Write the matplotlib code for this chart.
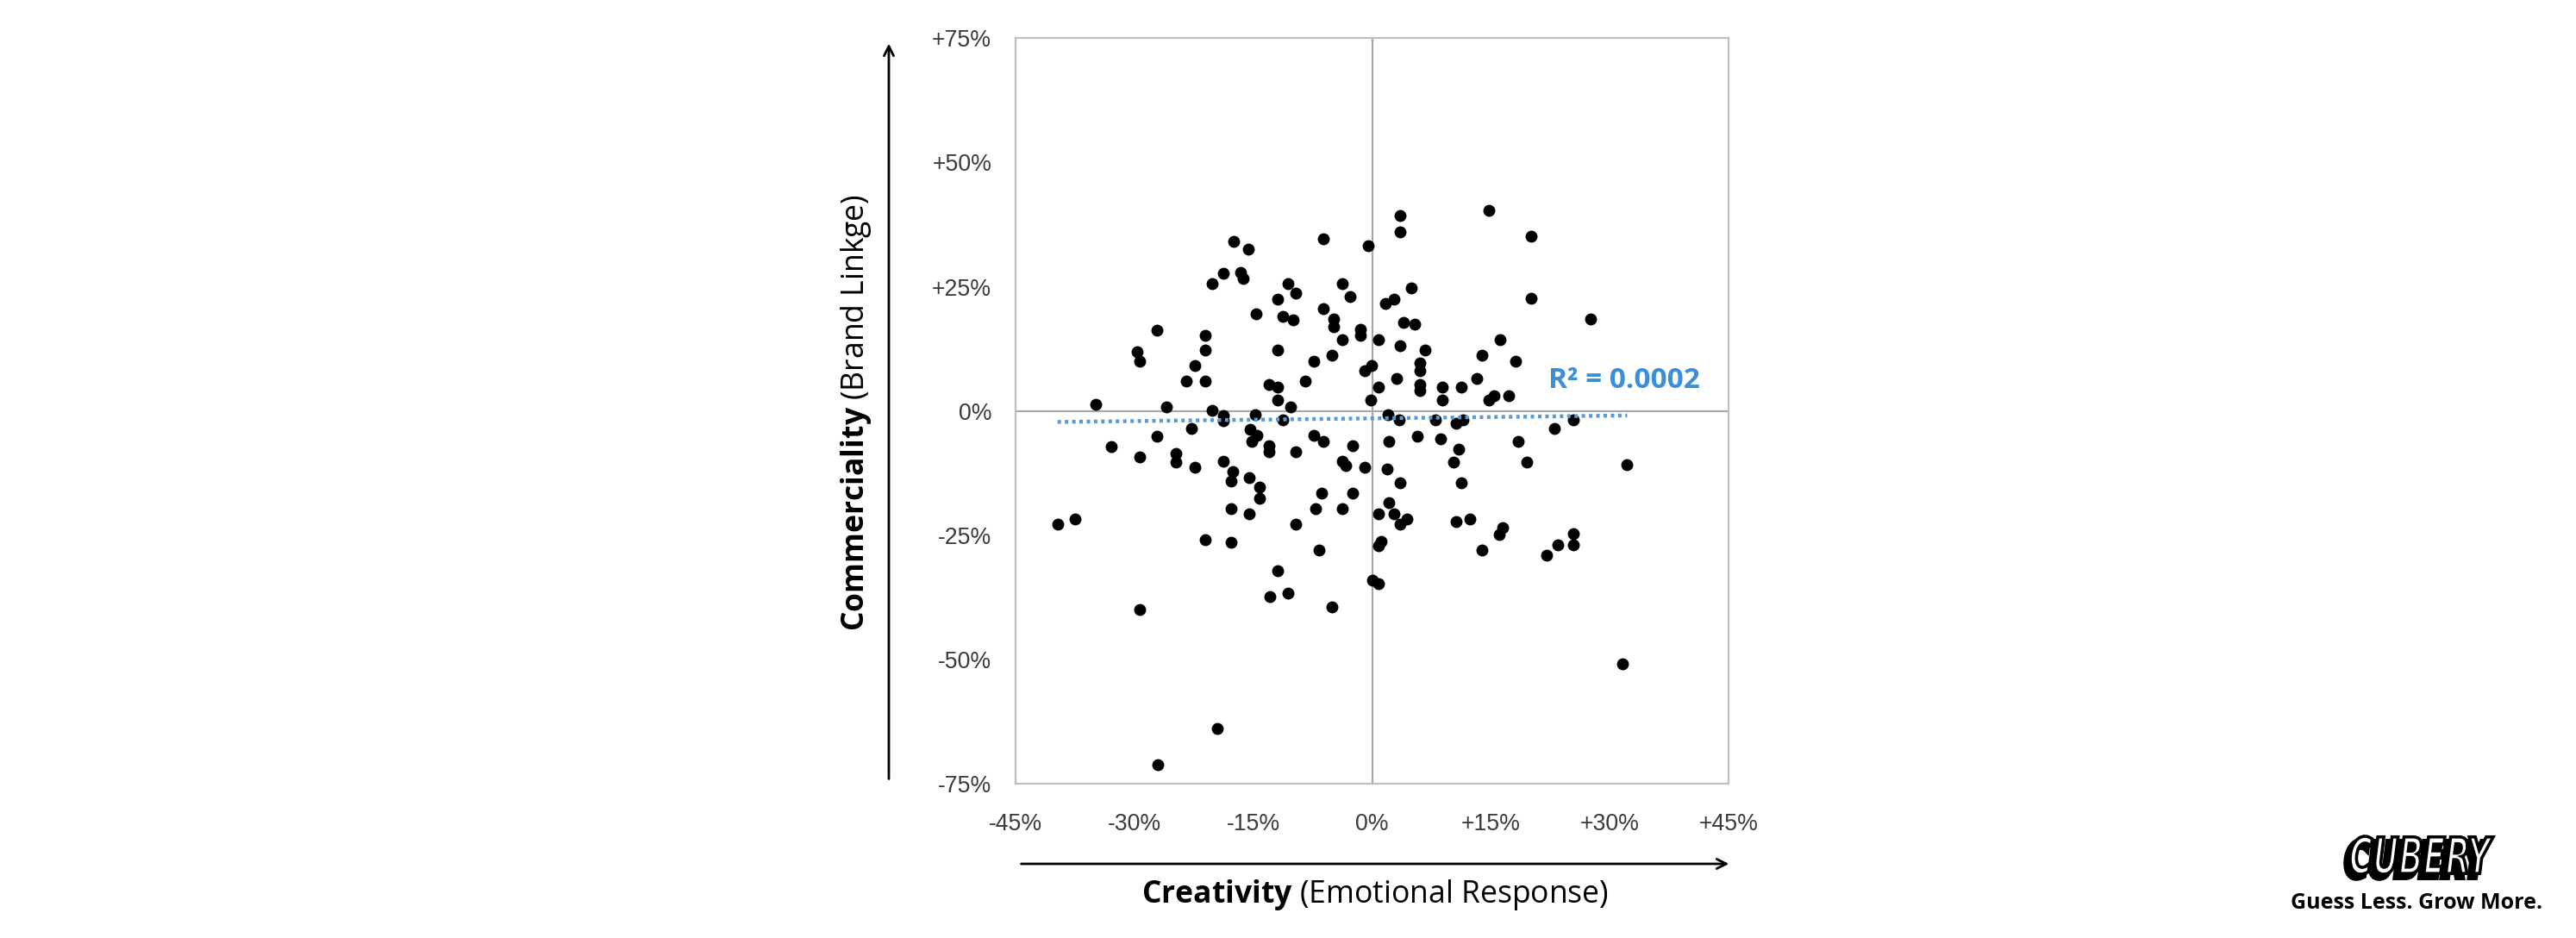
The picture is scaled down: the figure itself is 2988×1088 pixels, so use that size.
import matplotlib
matplotlib.use("Agg")
import matplotlib.pyplot as plt
import numpy as np
from matplotlib.textpath import TextPath
from matplotlib.patches import PathPatch
from matplotlib.font_manager import FontProperties
from matplotlib.transforms import Affine2D

# ---------------- data (percent) ----------------
creativity = [
    -17.5, -18.8, -20.2, -27.1, -21.1, -29.7, -29.3, -21.1, -22.4, -23.4,
    -21.1, -34.9, -26.0, -20.2, -18.8, -18.8, -22.8, -27.1, -32.9, -29.3,
    -24.8, -24.8, -22.4, -18.8, -17.6,
    -15.6, -16.6, -16.3, -6.1, -0.5, 3.5, 3.5, -10.6, -9.6, -11.9,
    -3.8, -2.8, 5.0, -14.6, -11.3, -10.0, -6.1, -4.8, -4.8, -3.8,
    -1.5, -1.5, 1.7, 2.8, 4.0, 5.4, 0.8, 3.5, 6.7, -11.9,
    -7.3, -5.1, 6.0, 6.0, -0.9, -0.1, -13.0, -11.9, -11.9, -8.4,
    -10.3, 0.8, -0.2, 3.1, 6.0, 6.0, -14.8, -11.3, 2.0, 3.4,
    -15.4, -14.5, -15.2, -13.0, -13.0, -9.6, -7.3, -6.1, -2.4, -3.8,
    -3.3, -0.9, 2.1, 5.7, 1.9,
    14.8, 20.1, 20.1, 27.6, 16.2, 13.9, 18.1, 13.2, 8.9, 8.9,
    11.3, 14.8, 15.4, 17.2, 8.0, 10.6, 11.5, 25.4, 23.0, 8.6,
    18.5, 10.9, 10.3, 19.5, 32.2,
    -39.7, -37.5, -17.8, -17.8, -21.1, -17.8, -29.3, -19.5, -27.0,
    -15.5, -14.2, -14.2, -15.5, -9.6, -6.4, -2.4, -7.1, -3.8, -6.7,
    -11.9, -12.9, -10.6, -5.1, 3.5, 2.1, 0.8, 2.8, 4.4, 3.5,
    1.1, 0.8, 0.0, 0.8,
    11.3, 10.6, 12.3, 16.5, 16.1, 13.9, 22.0, 23.4, 25.4, 25.4, 31.6,
]
commerciality = [
    34.1, 27.7, 25.7, 16.3, 15.3, 11.9, 10.0, 12.3, 9.1, 6.0,
    6.0, 1.3, 0.8, 0.2, -0.9, -1.9, -3.5, -5.0, -7.1, -9.2,
    -8.5, -10.2, -11.3, -10.1, -12.2,
    32.5, 27.9, 26.7, 34.6, 33.3, 39.3, 36.1, 25.7, 23.7, 22.5,
    25.7, 23.1, 24.7, 19.5, 19.0, 18.4, 20.6, 18.5, 16.9, 14.3,
    16.4, 15.3, 21.6, 22.5, 17.9, 17.5, 14.3, 13.2, 12.3, 12.3,
    10.1, 11.2, 9.7, 8.1, 8.1, 9.1, 5.4, 4.9, 2.3, 6.0,
    0.8, 4.9, 2.3, 6.5, 5.4, 4.1, -0.7, -1.8, -0.7, -1.8,
    -3.7, -4.9, -6.1, -6.9, -8.2, -8.1, -4.9, -6.1, -7.0, -10.1,
    -10.9, -11.3, -6.1, -5.0, -11.7,
    40.3, 35.1, 22.7, 18.5, 14.3, 11.2, 10.1, 6.6, 4.9, 2.3,
    4.9, 2.3, 3.0, 3.0, -1.8, -2.4, -1.8, -1.8, -3.5, -5.5,
    -6.1, -7.6, -10.2, -10.2, -10.7,
    -22.7, -21.7, -14.1, -19.6, -25.9, -26.4, -39.9, -63.9, -71.2,
    -13.4, -15.3, -17.5, -20.6, -22.7, -16.5, -16.5, -19.6, -19.6, -27.9,
    -32.1, -37.3, -36.7, -39.4, -14.4, -18.5, -20.6, -20.6, -21.7, -22.7,
    -26.3, -27.0, -34.1, -34.7,
    -14.4, -22.3, -21.7, -23.5, -24.9, -27.9, -29.0, -26.9, -24.7, -26.9, -50.9,
]

x_ticks = [-45, -30, -15, 0, 15, 30, 45]
x_tick_labels = ["-45%", "-30%", "-15%", "0%", "+15%", "+30%", "+45%"]
y_ticks = [-75, -50, -25, 0, 25, 50, 75]
y_tick_labels = ["-75%", "-50%", "-25%", "0%", "+25%", "+50%", "+75%"]

trend_slope = 0.018
trend_intercept = -1.47
r_squared_label = "R² = 0.0002"
r_squared_pos = (22.3, 6.2)

x_title_bold = "Creativity"
x_title_rest = " (Emotional Response)"
y_title_bold = "Commerciality"
y_title_rest = " (Brand Linkge)"
logo_word = "CUBERY"
tagline = "Guess Less. Grow More."

# ---------------- styling ----------------
LABEL_FONT = "Open Sans"
plt.rcParams["mathtext.fontset"] = "custom"
plt.rcParams["mathtext.bf"] = LABEL_FONT + ":bold"
plt.rcParams["mathtext.rm"] = LABEL_FONT

W, H = 2988, 1088
DPI = 200
fig = plt.figure(figsize=(W / DPI, H / DPI), dpi=DPI)
fig.patch.set_facecolor("white")

# main axes (pixel box: x 1178..2005, y 44..909 from top)
ax = fig.add_axes([1178 / W, 1 - 909.3 / H, (2005 - 1178) / W, (909.3 - 44.3) / H])
ax.set_xlim(-45, 45)
ax.set_ylim(-75, 75)
for s in ax.spines.values():
    s.set_color("#bfbfbf")
    s.set_linewidth(0.8)
ax.axvline(0, color="#a8a8a8", lw=0.8, zorder=1)
ax.axhline(0, color="#a8a8a8", lw=0.8, zorder=1)

ax.scatter(creativity, commerciality, s=25, color="black", zorder=3, linewidths=0)

xs = np.array([min(creativity), max(creativity)])
ax.plot(xs, trend_slope * xs + trend_intercept, color="#5b9bd5", lw=1.6,
        linestyle=(0, (0.9, 1.0)), zorder=4)
ax.text(r_squared_pos[0], r_squared_pos[1], r_squared_label, color="#3b8ed8",
        fontsize=12, fontweight="bold", family=LABEL_FONT, ha="left", va="center", zorder=5)

ax.set_xticks(x_ticks)
ax.set_xticklabels(x_tick_labels)
ax.set_yticks(y_ticks)
ax.set_yticklabels(y_tick_labels)
ax.tick_params(axis="both", length=0, labelsize=9.6, labelcolor="#3a3a3a")
ax.tick_params(axis="x", pad=12)
ax.tick_params(axis="y", pad=10)
for lab in ax.get_xticklabels() + ax.get_yticklabels():
    lab.set_family("Liberation Sans")

# axis arrows
fig.add_artist(matplotlib.patches.FancyArrowPatch(
    (1031 / W, 1 - 909 / H), (1031 / W, 1 - 45 / H), transform=fig.transFigure,
    arrowstyle="->", mutation_scale=10, lw=1.0, color="black"))
fig.add_artist(matplotlib.patches.FancyArrowPatch(
    (1179 / W, 1 - 1002 / H), (2011 / W, 1 - 1002 / H), transform=fig.transFigure,
    arrowstyle="->", mutation_scale=10, lw=1.0, color="black"))

# axis titles
fig.text(1595 / W, 1 - 1038 / H, r"$\mathbf{" + x_title_bold + "}$" + x_title_rest,
         ha="center", va="center", fontsize=12.8, family=LABEL_FONT, color="black")
fig.text(993 / W, 1 - 478 / H, r"$\mathbf{" + y_title_bold + "}$" + y_title_rest,
         ha="center", va="center", rotation=90, fontsize=12.8, family=LABEL_FONT, color="black")

# logo (overlay axes in pixel coordinates)
lax = fig.add_axes([0, 0, 1, 1], zorder=10)
lax.set_xlim(0, W)
lax.set_ylim(0, H)
lax.axis("off")
lax.patch.set_alpha(0)
fp = FontProperties(family="DejaVu Sans", weight="heavy", style="italic")
tp = TextPath((0, 0), logo_word, size=1, prop=fp)
ext = tp.get_extents()
target_w, target_h = 166, 44
sx = target_w / ext.width
sy = target_h / ext.height
x_left, y_bot = 2726, H - 1014
base = Affine2D().translate(-ext.x0, -ext.y0).scale(sx, sy).translate(x_left, y_bot)
shadow = base + Affine2D().translate(-5, -5)
lax.add_patch(PathPatch(shadow.transform_path(tp), facecolor="black", edgecolor="black", lw=2.0))
lax.add_patch(PathPatch(base.transform_path(tp), facecolor="white", edgecolor="black", lw=1.3))

fig.text(2803 / W, 1 - 1047 / H, tagline, ha="center", va="center", fontsize=9,
         fontweight="bold", family=LABEL_FONT, color="black")

fig.savefig("out.png", dpi=DPI, facecolor="white")
